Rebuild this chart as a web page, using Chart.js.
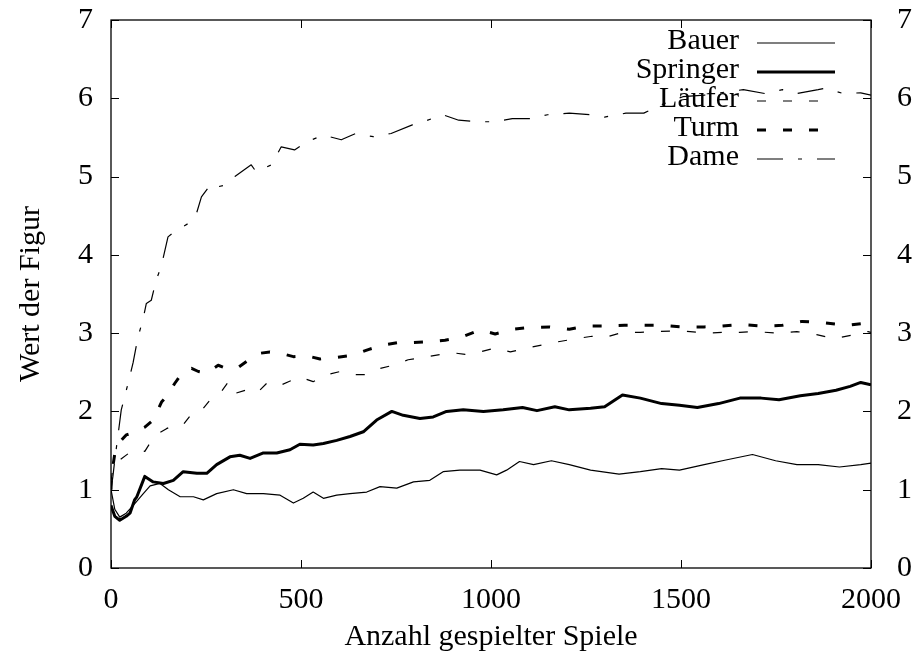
<!DOCTYPE html>
<html>
<head>
<meta charset="utf-8">
<script src="https://cdn.jsdelivr.net/npm/chart.js@4/dist/chart.umd.min.js"></script>
<style>
  html, body { margin: 0; padding: 0; background: #fff; }
  #c { display: block; }
</style>
</head>
<body>
<canvas id="c" width="914" height="655"></canvas>
<script>
// ---- data ----
const seriesNames = ['Bauer', 'Springer', 'Läufer', 'Turm', 'Dame'];

const bauerGames = [0, 10, 23, 40, 62, 85, 103, 129, 151, 182, 217, 243, 278, 322, 357, 401, 445, 480, 506, 532, 559, 594, 629, 673, 708, 752, 796, 839, 874, 918, 971, 1015, 1041, 1075, 1112, 1159, 1206, 1262, 1337, 1393, 1449, 1496, 1561, 1618, 1688, 1749, 1805, 1861, 1917, 1973, 2000];
const bauerValues = [1.0, 0.75, 0.65, 0.70, 0.82, 0.95, 1.05, 1.08, 1.00, 0.91, 0.91, 0.87, 0.95, 1.00, 0.95, 0.95, 0.93, 0.83, 0.89, 0.97, 0.89, 0.93, 0.95, 0.97, 1.04, 1.02, 1.10, 1.12, 1.23, 1.25, 1.25, 1.19, 1.25, 1.36, 1.32, 1.37, 1.32, 1.25, 1.20, 1.23, 1.27, 1.25, 1.32, 1.38, 1.45, 1.37, 1.32, 1.32, 1.29, 1.32, 1.34];

const springerGames = [0, 10, 23, 40, 50, 62, 68, 89, 111, 138, 164, 190, 226, 252, 278, 313, 339, 366, 401, 436, 471, 497, 532, 559, 594, 629, 664, 699, 739, 769, 813, 848, 883, 927, 980, 1032, 1083, 1121, 1168, 1206, 1262, 1299, 1346, 1393, 1449, 1496, 1543, 1599, 1655, 1711, 1758, 1814, 1861, 1908, 1945, 1973, 2000];
const springerValues = [0.8, 0.66, 0.61, 0.66, 0.70, 0.87, 0.91, 1.17, 1.10, 1.08, 1.12, 1.23, 1.21, 1.21, 1.32, 1.42, 1.44, 1.40, 1.47, 1.47, 1.51, 1.58, 1.57, 1.59, 1.63, 1.68, 1.74, 1.89, 2.00, 1.95, 1.91, 1.93, 2.00, 2.02, 2.00, 2.02, 2.05, 2.01, 2.06, 2.02, 2.04, 2.06, 2.21, 2.17, 2.10, 2.08, 2.05, 2.10, 2.17, 2.17, 2.15, 2.20, 2.23, 2.27, 2.32, 2.37, 2.34];

const laeuferGames = [0, 5, 23, 45, 54, 72, 89, 107, 125, 146, 168, 190, 217, 243, 265, 287, 309, 326, 353, 383, 410, 440, 467, 497, 532, 568, 603, 638, 673, 708, 743, 782, 822, 857, 897, 932, 971, 1011, 1051, 1093, 1135, 1177, 1224, 1266, 1304, 1346, 1393, 1440, 1487, 1524, 1566, 1608, 1655, 1697, 1753, 1805, 1857, 1903, 1955, 1992, 2000];
const laeuferValues = [1.1, 1.29, 1.38, 1.46, 1.49, 1.51, 1.49, 1.63, 1.72, 1.78, 1.83, 1.83, 2.00, 2.04, 2.17, 2.23, 2.38, 2.23, 2.27, 2.23, 2.36, 2.32, 2.38, 2.44, 2.38, 2.47, 2.51, 2.47, 2.47, 2.55, 2.59, 2.66, 2.69, 2.72, 2.75, 2.73, 2.76, 2.81, 2.76, 2.81, 2.85, 2.89, 2.93, 2.96, 2.95, 3.01, 3.01, 3.02, 3.03, 3.02, 3.00, 3.01, 3.01, 3.02, 3.00, 3.02, 2.98, 2.93, 2.98, 3.02, 3.01];

const turmGames = [0, 1, 10, 23, 40, 54, 72, 89, 111, 133, 146, 168, 190, 212, 230, 252, 282, 304, 331, 357, 388, 418, 449, 480, 515, 550, 594, 638, 677, 717, 756, 796, 839, 879, 923, 971, 1011, 1059, 1098, 1154, 1206, 1252, 1299, 1351, 1398, 1449, 1505, 1561, 1608, 1660, 1716, 1767, 1819, 1880, 1936, 1988, 2000];
const turmValues = [1.0, 1.17, 1.46, 1.61, 1.70, 1.72, 1.76, 1.80, 1.89, 2.12, 2.19, 2.36, 2.51, 2.55, 2.51, 2.49, 2.59, 2.55, 2.55, 2.64, 2.74, 2.76, 2.74, 2.70, 2.71, 2.67, 2.69, 2.72, 2.79, 2.85, 2.88, 2.88, 2.89, 2.91, 2.95, 3.04, 2.99, 3.05, 3.07, 3.08, 3.05, 3.09, 3.09, 3.10, 3.10, 3.10, 3.08, 3.08, 3.09, 3.11, 3.09, 3.10, 3.15, 3.13, 3.10, 3.13, 3.13];

const dameGames = [0, 5, 10, 27, 45, 58, 71, 84, 93, 106, 119, 132, 150, 168, 203, 225, 238, 264, 282, 299, 326, 369, 382, 422, 448, 483, 518, 559, 606, 644, 690, 737, 793, 822, 873, 915, 962, 1009, 1056, 1103, 1149, 1206, 1262, 1299, 1355, 1402, 1449, 1505, 1561, 1618, 1664, 1721, 1767, 1805, 1861, 1880, 1927, 1973, 2000];
const dameValues = [1.0, 1.17, 1.38, 2.02, 2.36, 2.62, 2.95, 3.17, 3.38, 3.42, 3.68, 3.85, 4.23, 4.30, 4.40, 4.53, 4.74, 4.91, 4.87, 4.89, 5.00, 5.15, 5.06, 5.15, 5.38, 5.34, 5.45, 5.53, 5.47, 5.55, 5.51, 5.55, 5.66, 5.70, 5.79, 5.72, 5.70, 5.70, 5.74, 5.74, 5.79, 5.81, 5.79, 5.76, 5.81, 5.81, 5.92, 6.02, 6.04, 6.08, 6.11, 6.06, 6.11, 6.06, 6.11, 6.13, 6.06, 6.07, 6.04];

const xTickStep = 500;
const xMin = 0, xMax = 2000;
const yTickStep = 1;
const yMin = 0, yMax = 7;
const xTitle = 'Anzahl gespielter Spiele';
const yTitle = 'Wert der Figur';

// ---- build chart ----
const FONT_FAMILY = "'Liberation Serif', 'DejaVu Serif', serif";
const FONT_SIZE = 30;
const font = { family: FONT_FAMILY, size: FONT_SIZE };

function pts(gs, vs) { return gs.map((g, i) => ({ x: g, y: vs[i] })); }

const styles = [
  { borderWidth: 1.2, borderDash: [] },
  { borderWidth: 3, borderDash: [] },
  { borderWidth: 1.2, borderDash: [9, 17] },
  { borderWidth: 3, borderDash: [9, 17] },
  { borderWidth: 1.2, borderDash: [26, 15, 4, 15] }
];
const seriesData = [
  pts(bauerGames, bauerValues),
  pts(springerGames, springerValues),
  pts(laeuferGames, laeuferValues),
  pts(turmGames, turmValues),
  pts(dameGames, dameValues)
];

const datasets = seriesNames.map((name, i) => ({
  label: name,
  data: seriesData[i],
  borderColor: '#000',
  backgroundColor: '#000',
  borderWidth: styles[i].borderWidth,
  borderDash: styles[i].borderDash,
  pointRadius: 0,
  tension: 0,
  fill: false,
  borderJoinStyle: 'round'
}));

const framePlugin = {
  id: 'frame',
  afterDatasetsDraw(chart) {
    const { ctx, chartArea: a, scales } = chart;
    ctx.save();
    ctx.strokeStyle = '#000';
    ctx.lineWidth = 1.3;
    ctx.setLineDash([]);
    ctx.strokeRect(a.left, a.top, a.right - a.left, a.bottom - a.top);
    const tl = 8;
    ctx.lineWidth = 1;
    ctx.beginPath();
    scales.x.ticks.forEach(t => {
      const x = Math.round(scales.x.getPixelForValue(t.value)) + 0.5;
      ctx.moveTo(x, a.bottom); ctx.lineTo(x, a.bottom - tl);
      ctx.moveTo(x, a.top); ctx.lineTo(x, a.top + tl);
    });
    scales.y.ticks.forEach(t => {
      const y = Math.round(scales.y.getPixelForValue(t.value)) + 0.5;
      ctx.moveTo(a.left, y); ctx.lineTo(a.left + tl, y);
      ctx.moveTo(a.right, y); ctx.lineTo(a.right - tl, y);
    });
    ctx.stroke();
    ctx.restore();
  }
};

const legendPlugin = {
  id: 'innerLegend',
  afterDatasetsDraw(chart) {
    const ctx = chart.ctx;
    const textRight = 739, lineX0 = 757, lineX1 = 835, top = 43, gap = 29;
    ctx.save();
    ctx.font = FONT_SIZE + 'px ' + FONT_FAMILY;
    ctx.fillStyle = '#000';
    ctx.textAlign = 'right';
    ctx.textBaseline = 'middle';
    chart.data.datasets.forEach((ds, i) => {
      const y = top + i * gap;
      ctx.fillText(ds.label, textRight, y - 2);
      ctx.beginPath();
      ctx.setLineDash(ds.borderDash || []);
      ctx.lineWidth = ds.borderWidth;
      ctx.strokeStyle = '#000';
      ctx.moveTo(lineX0, y); ctx.lineTo(lineX1, y);
      ctx.stroke();
    });
    ctx.restore();
  }
};

const plainLabel = v => String(v);

new Chart(document.getElementById('c'), {
  type: 'line',
  data: { datasets },
  options: {
    responsive: false,
    animation: false,
    devicePixelRatio: 1,
    layout: { padding: { top: 20, left: 0, right: 0, bottom: 0 } },
    plugins: { legend: { display: false }, tooltip: { enabled: false }, title: { display: false } },
    scales: {
      x: {
        type: 'linear', position: 'bottom', min: xMin, max: xMax,
        ticks: { stepSize: xTickStep, padding: 14, font, color: '#000', maxRotation: 0, autoSkip: false, callback: plainLabel },
        grid: { display: false, drawTicks: false },
        border: { display: false },
        title: { display: true, text: xTitle, font, color: '#000', padding: { top: 2, bottom: 0 } },
        afterFit(s) { s.height = 87; s.paddingLeft = 0; s.paddingRight = 0; }
      },
      y: {
        type: 'linear', position: 'left', min: yMin, max: yMax,
        ticks: { stepSize: yTickStep, padding: 18, font, color: '#000', callback: plainLabel },
        grid: { display: false, drawTicks: false },
        border: { display: false },
        title: { display: true, text: yTitle, font, color: '#000', padding: { top: 13, bottom: 0 } },
        afterFit(s) { s.width = 111; s.paddingTop = 0; s.paddingBottom = 0; }
      },
      y2: {
        type: 'linear', position: 'right', min: yMin, max: yMax,
        ticks: { stepSize: yTickStep, padding: 26, font, color: '#000', callback: plainLabel },
        grid: { display: false, drawTicks: false },
        border: { display: false },
        afterFit(s) { s.width = 43; s.paddingTop = 0; s.paddingBottom = 0; }
      }
    }
  },
  plugins: [framePlugin, legendPlugin]
});
</script>
</body>
</html>
